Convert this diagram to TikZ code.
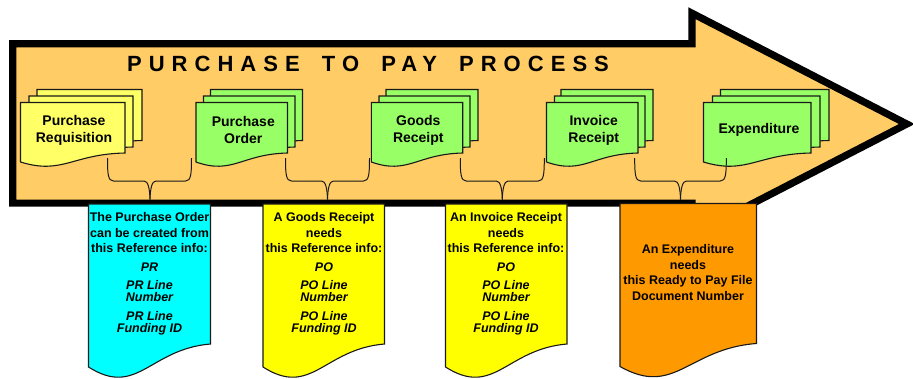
\documentclass[tikz,border=0pt]{standalone}
\usepackage{fontspec}
\setmainfont{Liberation Sans}
\definecolor{arrowfill}{HTML}{FFCC66}
\definecolor{softyellow}{HTML}{FFFF66}
\definecolor{softgreen}{HTML}{99FF66}
\definecolor{notecyan}{HTML}{00FFFF}
\definecolor{noteyellow}{HTML}{FFFF00}
\definecolor{noteorange}{HTML}{FF9900}
\tikzset{
  docline/.style={draw=black!90,line width=1.1pt,line join=miter},
  bracket/.style={draw=black!90,line width=1pt},
  stacklabel/.style={align=center,inner sep=0pt,font=\fontsize{14}{17}\selectfont\bfseries},
  notelabel/.style={align=center,inner sep=0pt,anchor=north,font=\fontsize{12.5}{15.5}\selectfont\bfseries},
}
% x1,x2,top,right-bottom,left drop,c1,c2,fill
\newcommand{\wavedoc}[8]{%
  \path[docline,fill=#8] (#1,#3) -- (#2,#3) -- (#2,#4)
    .. controls ({#1+0.5*(#2-#1)},{#4+#7}) and ({#1+0.4*(#2-#1)},{#4+#6}) .. (#1,{#4+#5}) -- cycle;}
% front x1,x2; second x1,x2; third x1,x2; fill
\newcommand{\docstack}[7]{%
  \wavedoc{#5}{#6}{89.5}{140.5}{9}{22}{1}{#7}
  \wavedoc{#3}{#4}{96}{147}{9}{22}{1}{#7}
  \wavedoc{#1}{#2}{102.5}{153}{9}{22}{1}{#7}}
\newcommand{\bracketpair}[4]{% name,left,right,tip
  \coordinate (#1l) at (#2,158);
  \coordinate (#1r) at (#3,158);
  \coordinate (#1t) at (#4,199.5);
  \draw[bracket] (#1l) .. controls (#2,174) and ({#2+0.5},181) .. ({#2+6},181)
    -- ({#4-6},181) .. controls ({#4-2},181) and ({#4-0.3},188) .. (#1t);
  \draw[bracket] (#1r) .. controls (#3,174) and ({#3-0.5},181) .. ({#3-6},181)
    -- ({#4+6},181) .. controls ({#4+2},181) and ({#4+0.3},188) .. (#1t);}
\begin{document}
\begin{tikzpicture}[x=1pt,y=-1pt]
\useasboundingbox (0,0) rectangle (913,378);
\clip (0,0) rectangle (913,378);
% big arrow
\path[draw=black,line width=7.2pt,fill=arrowfill,line join=miter]
  (12.7,43.8) -- (692,43.8) -- (692,13.2) -- (906.8,124) -- (692,234.8) -- (692,203.1) -- (12.7,203.1) -- cycle;
\node[inner sep=0pt,font=\fontsize{22}{26}\selectfont\bfseries] (title) at (368,63.5)
  {\addfontfeature{LetterSpace=32}PURCHASE\hspace{9pt} TO\hspace{9pt} PAY\hspace{9pt} PROCESS};
% document stacks
\docstack{20.5}{125}{29}{133}{37}{142}{softyellow}
\docstack{196}{287.5}{203.5}{295}{210.5}{302.5}{softgreen}
\docstack{371.3}{462.7}{379}{470}{386}{478}{softgreen}
\docstack{546.5}{638}{554.5}{645}{561}{653}{softgreen}
\docstack{703.5}{811}{712.5}{820}{720.5}{829}{softgreen}
\node[stacklabel] (pr) at (74,130) {Purchase\\Requisition};
\node[stacklabel] (po) at (243.3,130) {Purchase\\Order};
\node[stacklabel] (gr) at (418.3,130) {Goods\\Receipt};
\node[stacklabel] (ir) at (593.7,130) {Invoice\\Receipt};
\node[stacklabel] (ex) at (759,129.5) {Expenditure};
% note documents
\wavedoc{88.5}{210.5}{204}{344}{23}{54}{5}{notecyan}
\wavedoc{263}{384.5}{204}{344}{23}{54}{5}{noteyellow}
\wavedoc{445.5}{567}{204}{344}{23}{54}{5}{noteyellow}
\wavedoc{620}{756.5}{203.5}{343.5}{23}{54}{5}{noteorange}
% brackets
\bracketpair{a}{107.5}{191.5}{150}
\bracketpair{b}{285.5}{369.5}{327.5}
\bracketpair{c}{460.3}{544.3}{502.3}
\bracketpair{d}{634.7}{726.3}{680.5}
% note texts
\node[notelabel] (n1) at (149.5,212.5) {The Purchase Order\\can be created from\\this Reference info:\\[2.8pt]
  \itshape PR\\[2.5pt]\itshape PR Line\\[-3.5pt]\itshape Number\\[4pt]\itshape PR Line\\[-3.5pt]\itshape Funding ID};
\node[notelabel] (n2) at (324,212.5) {A Goods Receipt\\needs\\this Reference info:\\[2.8pt]
  \itshape PO\\[2.5pt]\itshape PO Line\\[-3.5pt]\itshape Number\\[4pt]\itshape PO Line\\[-3.5pt]\itshape Funding ID};
\node[notelabel] (n3) at (506,212.5) {An Invoice Receipt\\needs\\this Reference info:\\[2.8pt]
  \itshape PO\\[2.5pt]\itshape PO Line\\[-3.5pt]\itshape Number\\[4pt]\itshape PO Line\\[-3.5pt]\itshape Funding ID};
\node[notelabel] (n4) at (688,244.5) {An Expenditure\\needs\\this Ready to Pay File\\Document Number};
\end{tikzpicture}
\end{document}
